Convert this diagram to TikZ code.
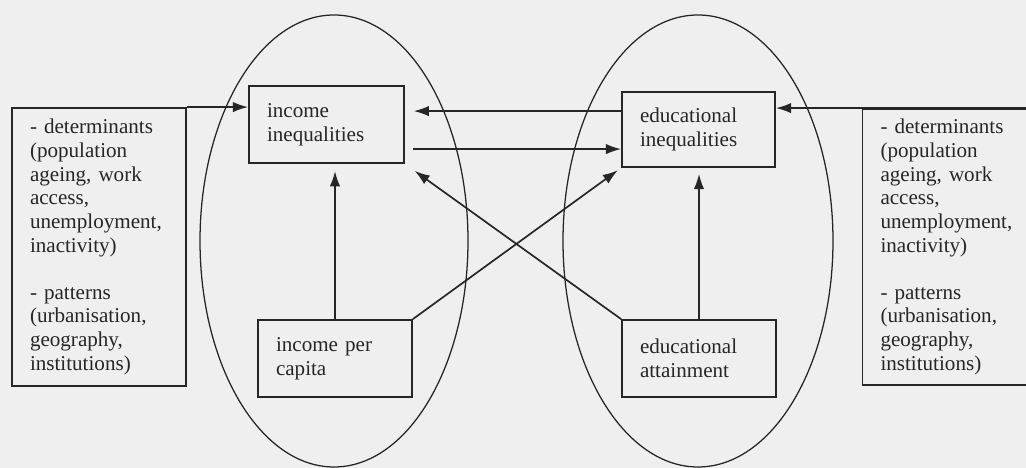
\documentclass[tikz,border=0pt]{standalone}
\usepackage{fontspec}
\setmainfont{Liberation Serif}
\usetikzlibrary{arrows.meta,calc}
\definecolor{inkline}{HTML}{262626}
\definecolor{paper}{HTML}{EFEFEF}

\begin{document}
\begin{tikzpicture}[>={Latex[length=3.8mm,width=2.6mm]},font={\fontsize{15}{16.8}\selectfont},
 box/.style={draw=inkline,line width=1.3pt,text=inkline,align=left,inner xsep=4.5mm,inner ysep=0pt},
 flow/.style={->,draw=inkline,line width=1.2pt},
 ring/.style={draw=inkline,line width=.9pt}]
\fill[paper] (0,0) rectangle (25.65,11.7);
\useasboundingbox (0,0) rectangle (25.65,11.7);
\draw[ring] (8.35,5.675) ellipse (3.35 and 5.65);
\draw[ring] (17.45,5.675) ellipse (3.375 and 5.65);
\node[box,text width=3.45cm,minimum height=6.95cm] (detL) at (2.475,5.525)
 {- determinants\\(population\\ageing, work\\access,\\unemployment,\\inactivity)\\[16.8pt]- patterns\\(urbanisation,\\geography,\\institutions)};
\node[box,text width=3.45cm,minimum height=6.9cm] (detR) at (23.7375,5.525)
 {- determinants\\(population\\ageing, work\\access,\\unemployment,\\inactivity)\\[16.8pt]- patterns\\(urbanisation,\\geography,\\institutions)};
\node[box,text width=2.975cm,minimum height=1.925cm] (incineq) at (8.1625,8.5875) {income\\inequalities};
\node[box,text width=2.925cm,minimum height=1.875cm] (eduineq) at (17.4625,8.4625) {educational\\inequalities};
\node[box,text width=2.95cm,minimum height=1.925cm] (incpc) at (8.375,2.7375) {income per\\capita};
\node[box,text width=2.95cm,minimum height=1.925cm] (eduatt) at (17.475,2.7375) {educational\\attainment};
\draw[flow] (detL.north east) -- (detL.north east -| incineq.west);
\draw[flow] (detR.north east) -- (detR.north east -| eduineq.east);
\draw[flow,shorten >=2.2mm] ([yshift=4.6mm]eduineq.west) -- ([yshift=4.6mm]eduineq.west -| incineq.east);
\draw[flow,shorten <=2mm] ([yshift=-4.9mm]eduineq.west -| incineq.east) -- ([yshift=-4.9mm]eduineq.west);
\draw[flow,shorten >=1.8mm] (incpc.north) -- (incpc.north |- incineq.south);
\draw[flow,shorten >=1.5mm] (eduatt.north) -- (eduatt.north |- eduineq.south);
\draw[flow,shorten >=1mm] (incpc.north east) -- (eduineq.south west);
\draw[flow,shorten >=3mm] (eduatt.north west) -- (incineq.south east);
\end{tikzpicture}
\end{document}
